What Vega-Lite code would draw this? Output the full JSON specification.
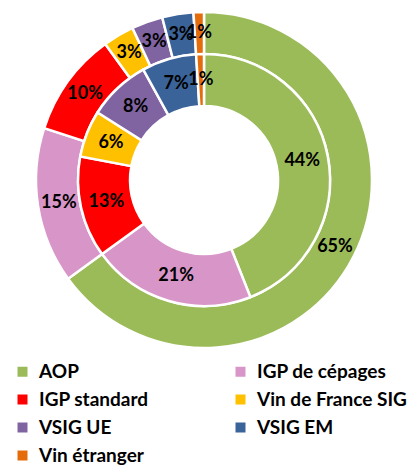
{
  "$schema": "https://vega.github.io/schema/vega-lite/v6.json",
  "width": 408,
  "height": 360,
  "autosize": "none",
  "padding": {"top": 0, "left": 0, "right": 4, "bottom": 106},
  "background": "white",
  "data": {"values": [
    {"ring": "outer", "cat": "AOP", "o": 1, "v": 65, "label": "65%"},
    {"ring": "outer", "cat": "IGP de cépages", "o": 2, "v": 15, "label": "15%"},
    {"ring": "outer", "cat": "IGP standard", "o": 3, "v": 10, "label": "10%"},
    {"ring": "outer", "cat": "Vin de France SIG", "o": 4, "v": 3, "label": "3%"},
    {"ring": "outer", "cat": "VSIG UE", "o": 5, "v": 3, "label": "3%"},
    {"ring": "outer", "cat": "VSIG EM", "o": 6, "v": 3, "label": "3%"},
    {"ring": "outer", "cat": "Vin étranger", "o": 7, "v": 1, "label": "1%"},
    {"ring": "inner", "cat": "AOP", "o": 1, "v": 44, "label": "44%"},
    {"ring": "inner", "cat": "IGP de cépages", "o": 2, "v": 21, "label": "21%"},
    {"ring": "inner", "cat": "IGP standard", "o": 3, "v": 13, "label": "13%"},
    {"ring": "inner", "cat": "Vin de France SIG", "o": 4, "v": 6, "label": "6%"},
    {"ring": "inner", "cat": "VSIG UE", "o": 5, "v": 8, "label": "8%"},
    {"ring": "inner", "cat": "VSIG EM", "o": 6, "v": 7, "label": "7%"},
    {"ring": "inner", "cat": "Vin étranger", "o": 7, "v": 1, "label": "1%"}
  ]},
  "encoding": {
    "theta": {"field": "v", "type": "quantitative", "stack": true},
    "order": {"field": "o", "type": "quantitative"},
    "color": {
      "field": "cat", "type": "nominal",
      "scale": {
        "domain": ["AOP", "IGP de cépages", "IGP standard", "Vin de France SIG", "VSIG UE", "VSIG EM", "Vin étranger"],
        "range": ["#9BBB59", "#D896C8", "#FF0000", "#FFC000", "#8064A2", "#3A6399", "#E46C0A"]
      },
      "legend": {
        "title": null,
        "orient": "none",
        "direction": "horizontal",
        "legendX": 13,
        "legendY": 362,
        "columns": 2,
        "columnPadding": 82,
        "rowPadding": 8,
        "symbolType": "square",
        "symbolSize": 100,
        "symbolStrokeWidth": 0,
        "symbolOpacity": 1,
        "labelFont": "Lato",
        "labelFontWeight": "bold",
        "labelFontSize": 19,
        "labelColor": "#000000",
        "labelOffset": 7,
        "labelLimit": 250,
        "padding": 0
      }
    }
  },
  "layer": [
    {
      "transform": [{"filter": "datum.ring === 'outer'"}],
      "mark": {"type": "arc", "radius": 168, "radius2": 126, "stroke": "white", "strokeWidth": 2.5}
    },
    {
      "transform": [{"filter": "datum.ring === 'inner'"}],
      "mark": {"type": "arc", "radius": 126, "radius2": 74, "stroke": "white", "strokeWidth": 2.5}
    },
    {
      "transform": [{"filter": "datum.ring === 'outer'"}],
      "mark": {"type": "text", "radius": 147, "font": "Lato", "fontWeight": "bold", "fontSize": 18},
      "encoding": {"text": {"field": "label"}, "color": {"value": "black"}}
    },
    {
      "transform": [{"filter": "datum.ring === 'inner'"}],
      "mark": {"type": "text", "radius": 100, "font": "Lato", "fontWeight": "bold", "fontSize": 18},
      "encoding": {"text": {"field": "label"}, "color": {"value": "black"}}
    }
  ],
  "config": {"view": {"stroke": null}}
}
